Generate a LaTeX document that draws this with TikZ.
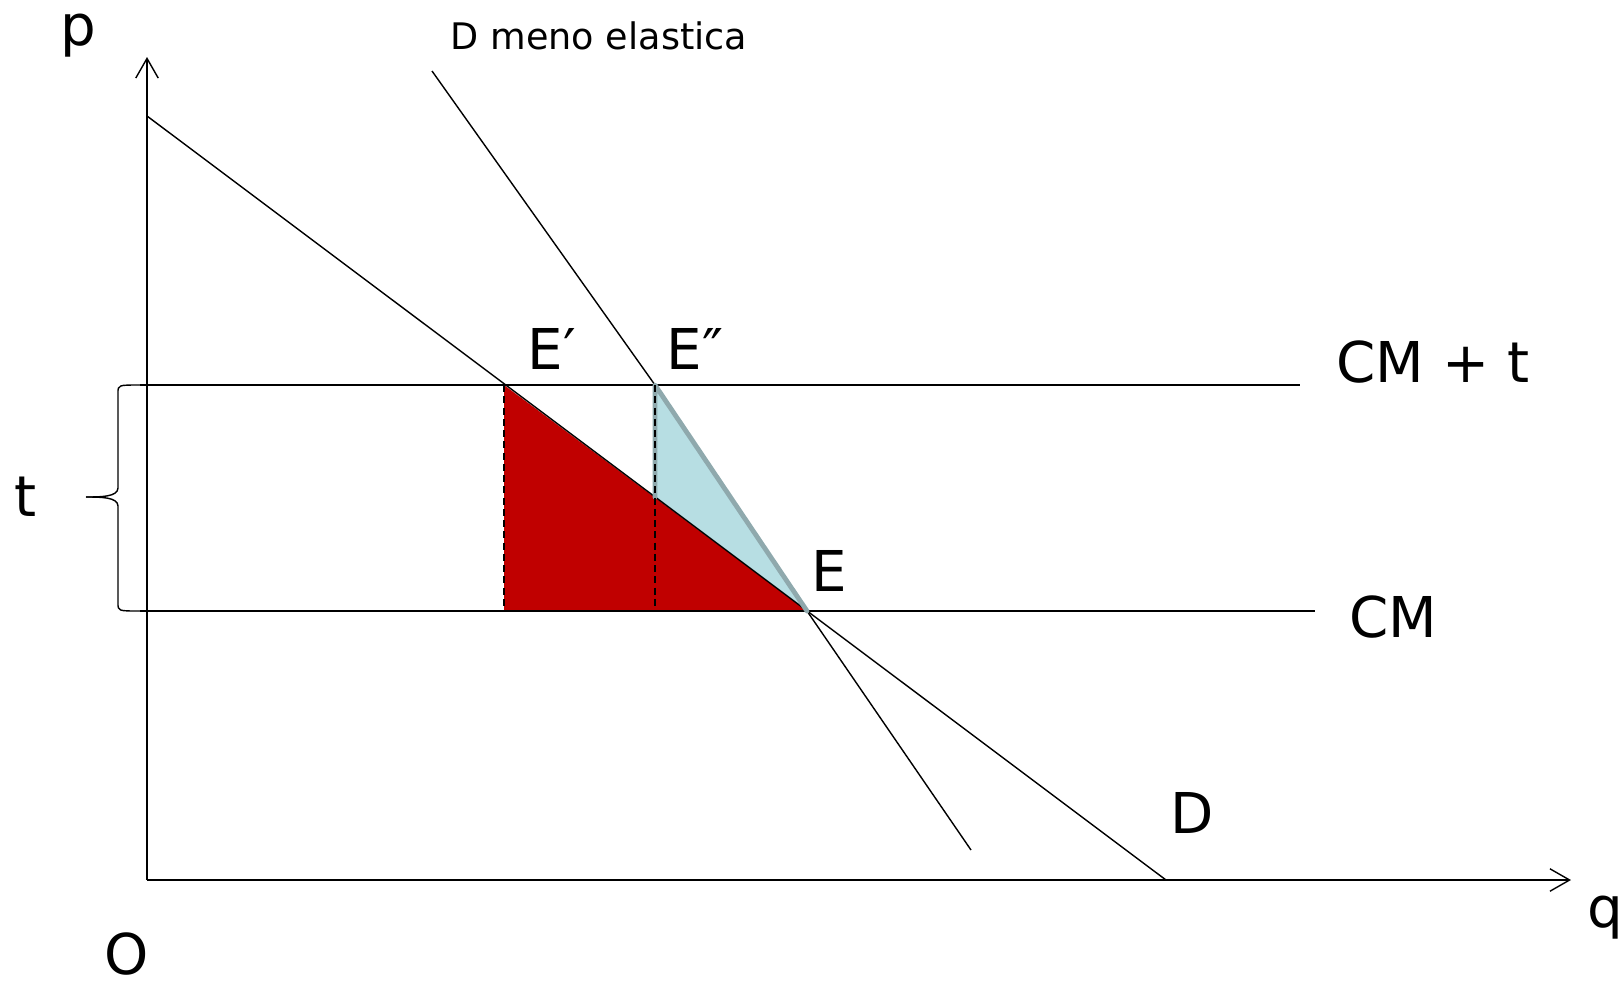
\documentclass[tikz,border=0pt]{standalone}
\usepackage{fontspec}
\setmainfont{DejaVu Sans}
\usetikzlibrary{arrows.meta}
\tikzset{
  ln/.style={line width=1pt, black},
  axis/.style={line width=1.2pt, black, -{Straight Barb[length=14pt,width=16pt,line width=1pt]}},
  big/.style={font=\fontsize{40}{48}\selectfont, inner sep=0pt},
  small/.style={font=\fontsize{26}{30}\selectfont, inner sep=0pt},
  dashln/.style={line width=1.2pt, dash pattern=on 5pt off 3pt},
  redfill/.style={fill={rgb,255:red,192;green,0;blue,0}},
  bluefill/.style={fill={rgb,255:red,183;green,222;blue,227}},
  bluestroke/.style={draw={rgb,255:red,143;green,169;blue,173}, line width=3.4pt, line cap=round, line join=round}
}
\begin{document}
\begin{tikzpicture}[x=0.025cm, y=-0.025cm]
\useasboundingbox (0,0) rectangle (1624,987);
% coordinates
\coordinate (O) at (147,880);
\coordinate (ytip) at (147,57);
\coordinate (xtip) at (1571,880);
\coordinate (Dstart) at (147,116);
\coordinate (Dend) at (1166,880);
\coordinate (Ep) at (504,385);
\coordinate (Epb) at (504,611);
\coordinate (E) at (807,611);
\coordinate (Epp) at (655,385);
\coordinate (Eppm) at (655,497);
\coordinate (Eppb) at (655,611);
\coordinate (Mstart) at (432,71);
\coordinate (Mend) at (971,850);
\coordinate (CMtL) at (140,385);
\coordinate (CMtR) at (1300,385);
\coordinate (CML) at (140,611);
\coordinate (CMR) at (1315,611);
% fills
\fill[redfill] (Ep) -- (Epb) -- (E) -- cycle;
\fill[bluefill] (Epp) -- (Eppm) -- (E) -- cycle;
% lines
\draw[ln] (CMtL) -- (CMtR);
\draw[ln] (CML) -- (CMR);
\draw[ln] (Dstart) -- (Dend);
\draw[ln] (Mstart) -- (Epp) -- (E) -- (Mend);
\draw[bluestroke] (Eppm) -- (Epp) -- (E);
% dashed verticals
\draw[dashln] (Ep) -- (Epb);
\draw[dashln] (Epp) -- (Eppb);
% axes
\draw[axis] (O) -- (ytip);
\draw[axis] (O) -- (xtip);
% brace
\coordinate (btip) at (86,497);
\draw[ln] (CMtL) .. controls (118,385) .. (118,393) -- (118,488)
  .. controls (118,497) and (100,497) .. (btip);
\draw[ln] (CML) .. controls (118,611) .. (118,603) -- (118,506)
  .. controls (118,497) and (100,497) .. (btip);
% labels
\node[big] (lp) at (78,36) {p};
\node[small] (lmeno) at (599,36) {D meno elastica};
\node[big] (lEp) at (552,349) {E′};
\node[big] (lEpp) at (695,349) {E″};
\node[big] (lCMt) at (1433,362) {CM + t};
\node[big] (lt) at (26,497) {t};
\node[big] (lE) at (829,571) {E};
\node[big] (lCM) at (1393,617) {CM};
\node[big] (lD) at (1192,813) {D};
\node[big] (lq) at (1605,918) {q};
\node[big] (lO) at (127,954) {O};
\end{tikzpicture}
\end{document}
